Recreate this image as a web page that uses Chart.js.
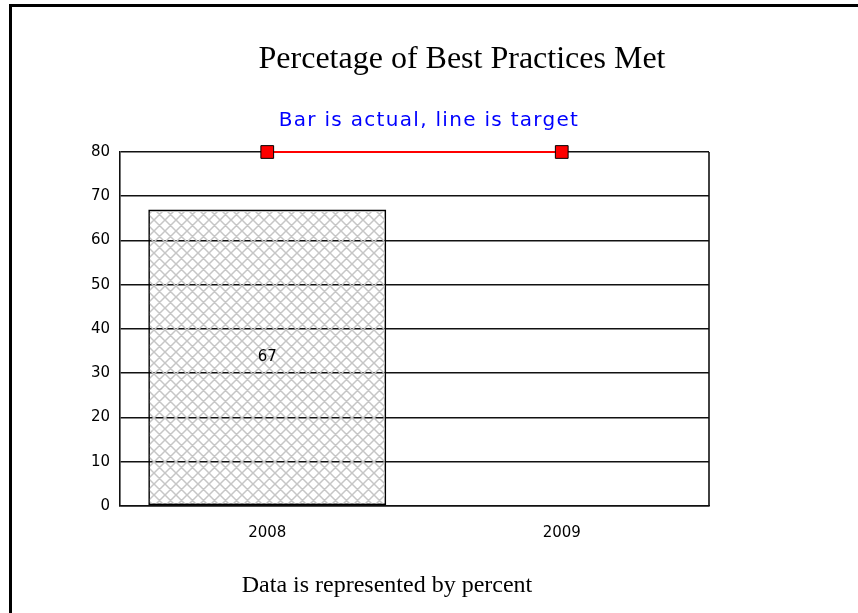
<!DOCTYPE html>
<html>
<head>
<meta charset="utf-8">
<script src="https://cdn.jsdelivr.net/npm/chart.js@4/dist/chart.umd.min.js"></script>
<style>
  html, body { margin: 0; padding: 0; background: #fff; }
  canvas { display: block; }
</style>
</head>
<body>
<canvas id="myChart" width="858" height="613"></canvas>
<script>
// data
const years = ["2008", "2009"];
const actual = [67, null];
const target = [80, 80];
const yTicks = [0, 10, 20, 30, 40, 50, 60, 70, 80];

const titleText = "Percetage of Best Practices Met";
const subText = "Bar is actual, line is target";
const footText = "Data is represented by percent";

// crosshatch fill for the bar
function hatch(){
    const n = 11;
    let c = document.createElement('canvas');
    c.width = n; c.height = n;
    let g = c.getContext('2d');
    g.strokeStyle = '#c6c6c6';
    g.lineWidth = 1.5;
    g.beginPath();
    g.moveTo(0, 0); g.lineTo(n, n);
    g.moveTo(n, 0); g.lineTo(0, n);
    g.moveTo(-n/2, n/2); g.lineTo(n/2, -n/2);
    g.moveTo(n/2, n*1.5); g.lineTo(n*1.5, n/2);
    g.moveTo(-n/2, n/2); g.lineTo(n/2, n*1.5);
    g.moveTo(n/2, -n/2); g.lineTo(n*1.5, n/2);
    g.stroke();
    return g.createPattern(c, 'repeat');
}

const decor = {
    id: 'decor',
    afterDatasetsDraw(chart){
        const { ctx, chartArea: {left, right, top, bottom} } = chart;
        ctx.save();

        // plot frame right side
        ctx.strokeStyle = '#111';
        ctx.lineWidth = 1.6;
        ctx.beginPath();
        ctx.moveTo(right, top);
        ctx.lineTo(right, bottom);
        ctx.stroke();

        // value label in bar
        const bar = chart.getDatasetMeta(1).data[0];
        ctx.fillStyle = '#000';
        ctx.font = '15px "DejaVu Sans"';
        ctx.textAlign = 'center';
        ctx.textBaseline = 'middle';
        ctx.fillText(String(actual[0]), bar.x, (bar.y + bar.base) / 2);
        ctx.restore();
    },
    afterDraw(chart){
        const ctx = chart.ctx;
        ctx.save();
        // outer frame
        ctx.fillStyle = '#000';
        ctx.fillRect(9, 4, 3, 609);
        ctx.fillRect(9, 4, 849, 3);

        ctx.textAlign = 'center';
        ctx.textBaseline = 'alphabetic';
        ctx.fillStyle = '#000';
        ctx.font = '32px "Liberation Serif"';
        ctx.fillText(titleText, 462, 68);

        ctx.fillStyle = '#0000ff';
        ctx.font = '20px "DejaVu Sans"';
        ctx.letterSpacing = '1.3px';
        ctx.fillText(subText, 429, 126);
        ctx.letterSpacing = '0px';

        ctx.fillStyle = '#000';
        ctx.font = '24px "Liberation Serif"';
        ctx.fillText(footText, 387, 592);
        ctx.restore();
    }
};

const config = {
    data: {
        labels: years,
        datasets: [
            {
                type: 'line',
                label: 'Target',
                data: target,
                borderColor: 'rgb(255, 0, 0)',
                borderWidth: 2,
                pointStyle: 'rect',
                pointRadius: 9,
                pointBackgroundColor: 'rgb(255, 0, 0)',
                pointBorderColor: '#000',
                pointBorderWidth: 1,
                clip: false,
                order: 0,
            },
            {
                type: 'bar',
                label: 'Actual',
                data: actual,
                backgroundColor: hatch(),
                borderColor: '#000',
                borderWidth: 1.6,
                borderSkipped: false,
                categoryPercentage: 1,
                barPercentage: 0.808,
                order: 1,
            }
        ]
    },
    options: {
        responsive: false,
        animation: false,
        layout: { padding: { top: 152, right: 149, bottom: 0, left: 0 } },
        plugins: {
            legend: { display: false },
            tooltip: { enabled: false },
            title: { display: false },
        },
        scales: {
            x: {
                offset: true,
                grid: { display: false },
                border: { color: '#111', width: 1.6 },
                ticks: {
                    color: '#000',
                    padding: 10,
                    font: { family: 'DejaVu Sans', size: 15 },
                },
                afterFit(scale){ scale.height = 107; },
            },
            y: {
                min: 0,
                max: 80,
                afterBuildTicks(scale){ scale.ticks = yTicks.map(v => ({ value: v })); },
                grid: { color: '#111', lineWidth: 1.6, drawTicks: false },
                border: { color: '#111', width: 1.6 },
                ticks: {
                    color: '#000',
                    padding: 10,
                    font: { family: 'DejaVu Sans', size: 15 },
                },
                afterFit(scale){ scale.width = 120; },
            }
        }
    },
    plugins: [decor],
};

new Chart(document.getElementById('myChart'), config);
</script>
</body>
</html>
